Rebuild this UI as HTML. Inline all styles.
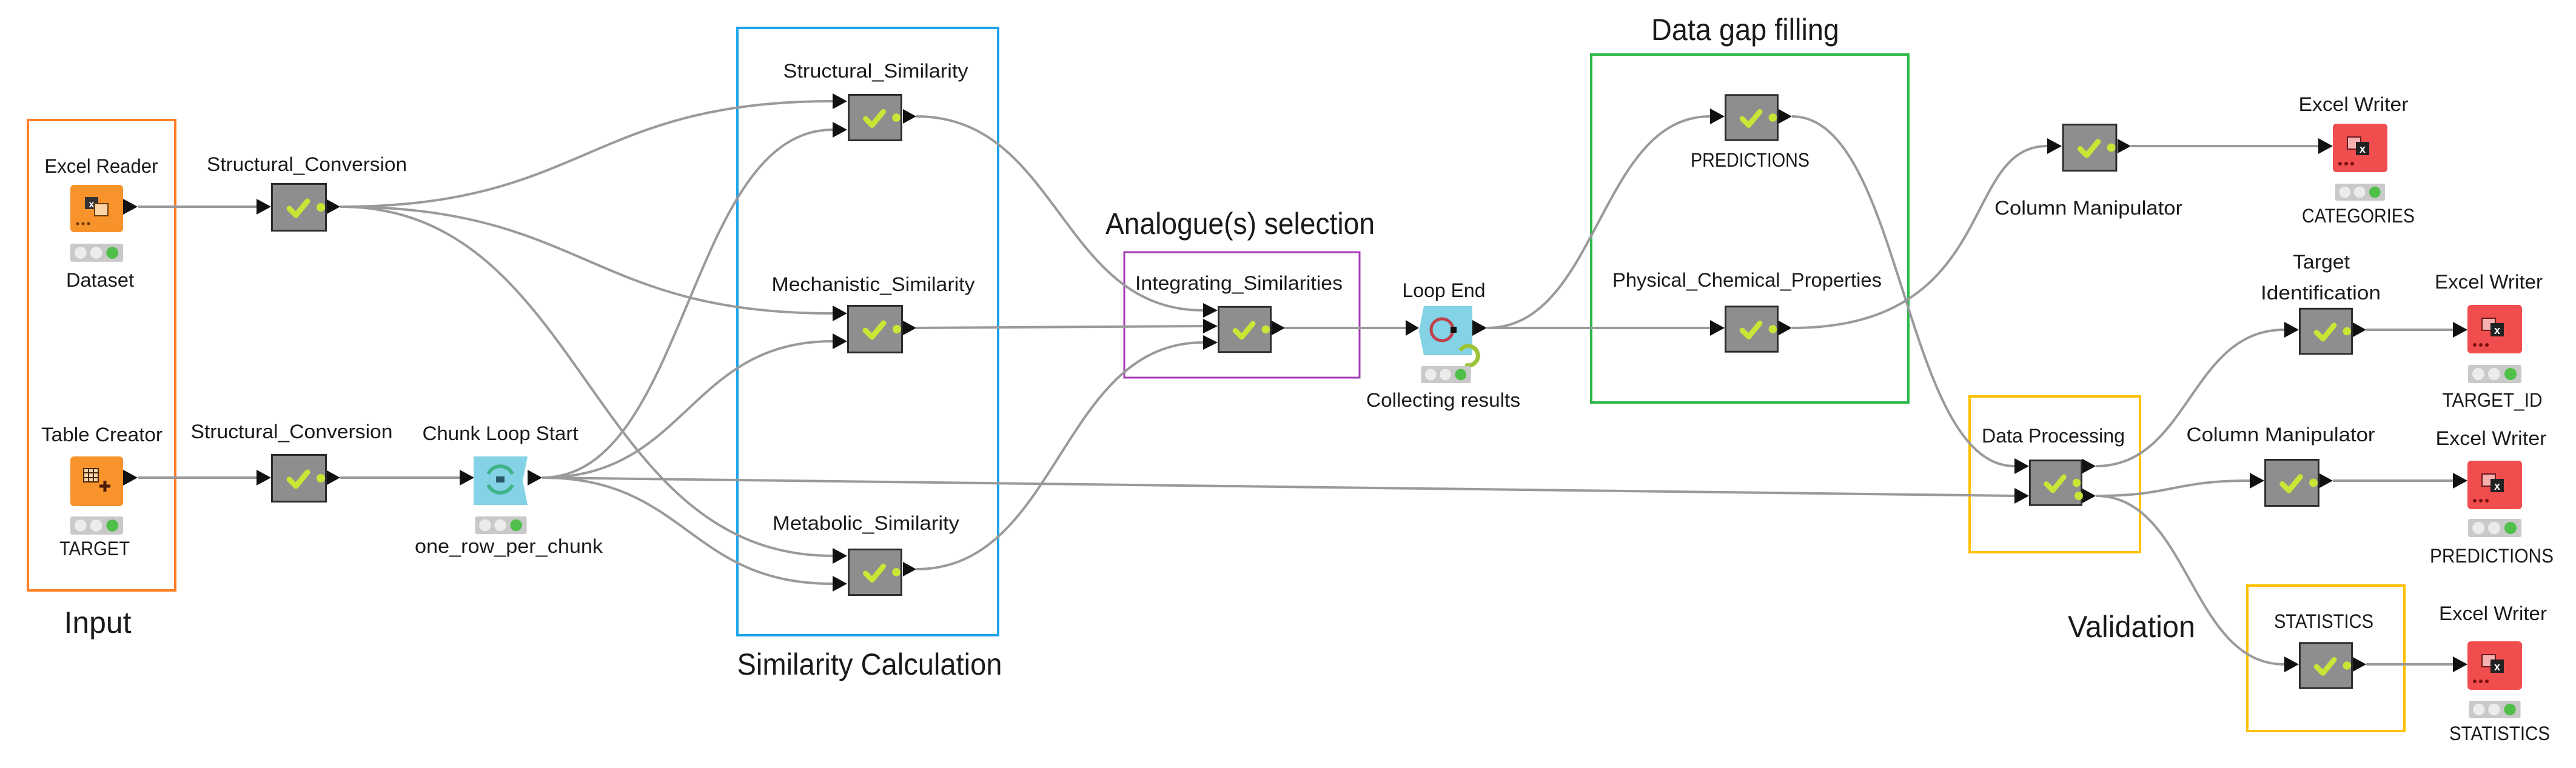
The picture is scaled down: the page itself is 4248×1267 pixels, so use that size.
<!DOCTYPE html>
<html><head><meta charset="utf-8"><style>
html,body{margin:0;padding:0;background:#fff;}
svg{display:block;}
text{font-family:"Liberation Sans",sans-serif;fill:#1a1a1a;}
.l{font-size:32px;}
.g{font-size:50px;}
</style></head><body>
<svg width="4248" height="1267" viewBox="0 0 4248 1267" xmlns="http://www.w3.org/2000/svg">
<defs>
<symbol id="node" viewBox="0 0 92 80">
<rect x="1.5" y="1.5" width="89" height="77" fill="#8e8e8e" stroke="#2b2b2b" stroke-width="3"/>
<polyline points="30,42 41,53 60,30" fill="none" stroke="#c8e636" stroke-width="9" stroke-linecap="round" stroke-linejoin="round"/>
<circle cx="82" cy="40" r="7" fill="#c8e636"/>
</symbol>
<symbol id="status" viewBox="0 0 88 30">
<rect x="0" y="0" width="88" height="30" rx="3" fill="#c9c9c9"/>
<circle cx="17" cy="15" r="10" fill="#ececec"/>
<circle cx="43" cy="15" r="10" fill="#ececec"/>
<circle cx="70" cy="15" r="10" fill="#4fbf4a"/>
</symbol>
<symbol id="ew" viewBox="0 0 90 80">
<rect x="0" y="0" width="90" height="80" rx="6" fill="#f04d4f"/>
<rect x="24" y="22" width="22" height="20" fill="#f7b0b0" stroke="#6a1a1a" stroke-width="2"/>
<rect x="38" y="30" width="22" height="22" fill="#222"/>
<text x="49" y="48" font-size="18" style="fill:#fff;font-weight:bold" text-anchor="middle">x</text>
<circle cx="12" cy="66" r="3" fill="#7a1010"/><circle cx="22" cy="66" r="3" fill="#7a1010"/><circle cx="32" cy="66" r="3" fill="#7a1010"/>
</symbol>
</defs>

<!-- group boxes -->
<rect x="46" y="198" width="243" height="776" fill="none" stroke="#ff7f27" stroke-width="4"/>
<rect x="1216" y="46" width="430" height="1002" fill="none" stroke="#1ea4ea" stroke-width="4"/>
<rect x="1854" y="416" width="388" height="207" fill="none" stroke="#a43cb4" stroke-width="3"/>
<rect x="2624" y="90" width="523" height="574" fill="none" stroke="#2cb84a" stroke-width="4"/>
<rect x="3248" y="654" width="281" height="257" fill="none" stroke="#ffc000" stroke-width="4"/>
<rect x="3706" y="966" width="259" height="240" fill="none" stroke="#ffc000" stroke-width="4"/>

<!-- group titles -->
<text class="g" x="161" y="1044" text-anchor="middle" textLength="111" lengthAdjust="spacingAndGlyphs">Input</text>
<text class="g" x="1434" y="1113" text-anchor="middle" textLength="437" lengthAdjust="spacingAndGlyphs">Similarity Calculation</text>
<text class="g" x="2045" y="386" text-anchor="middle" textLength="444" lengthAdjust="spacingAndGlyphs">Analogue(s) selection</text>
<text class="g" x="2878" y="66" text-anchor="middle" textLength="310" lengthAdjust="spacingAndGlyphs">Data gap filling</text>
<text class="g" x="3515" y="1051" text-anchor="middle" textLength="210" lengthAdjust="spacingAndGlyphs">Validation</text>

<!-- connectors -->
<g fill="none" stroke="#9a9a9a" stroke-width="4">
<path d="M228 341 L423 341"/>
<path d="M561 341 C967 341 967 167 1373 167"/>
<path d="M561 341 C967 341 967 517 1373 517"/>
<path d="M561 341 C967 341 967 917 1373 917"/>
<path d="M228 788 L423 788"/>
<path d="M561 788 L758 788"/>
<path d="M894 788 C1134 788 1134 214 1373 214"/>
<path d="M894 788 C1134 788 1134 563 1373 563"/>
<path d="M894 788 C1134 788 1134 963 1373 963"/>
<path d="M894 788 L3322 818"/>
<path d="M1511 192 C1747 192 1747 512 1984 512"/>
<path d="M1511 541 L1984 538"/>
<path d="M1511 939 C1747 939 1747 565 1984 565"/>
<path d="M2118 541 L2318 541"/>
<path d="M2452 541 C2636 541 2636 192 2820 192"/>
<path d="M2452 541 L2820 541"/>
<path d="M2955 192 C3138 192 3138 769 3322 769"/>
<path d="M2955 541 C3300 541 3230 241 3376 241"/>
<path d="M3514 241 L3823 241"/>
<path d="M3456 769 C3611 769 3611 544 3767 544"/>
<path d="M3456 818 C3583 818 3583 793 3710 793"/>
<path d="M3456 818 C3611 818 3611 1096 3767 1096"/>
<path d="M3902 544 L4045 544"/>
<path d="M3847 793 L4045 793"/>
<path d="M3902 1096 L4045 1096"/>
</g>

<!-- gray nodes -->
<use href="#node" x="447" y="302" width="92" height="80"/>
<use href="#node" x="447" y="749" width="92" height="80"/>
<use href="#node" x="1397" y="155" width="92" height="78"/>
<use href="#node" x="1397" y="503" width="92" height="80"/>
<use href="#node" x="1397" y="905" width="92" height="78"/>
<use href="#node" x="2008" y="503" width="89" height="81"/>
<use href="#node" x="2844" y="155" width="89" height="78"/>
<use href="#node" x="2844" y="503" width="89" height="80"/>
<use href="#node" x="3400" y="204" width="92" height="79"/>
<use href="#node" x="3791" y="507" width="89" height="79"/>
<use href="#node" x="3346" y="757" width="88" height="79"/>
<use href="#node" x="3734" y="757" width="91" height="79"/>
<use href="#node" x="3791" y="1058" width="89" height="80"/>

<!-- ports -->
<g fill="#111">
<!-- inputs -->
<polygon points="423,328 447,341 423,354"/>
<polygon points="423,775 447,788 423,801"/>
<polygon points="758,775 782,788 758,801"/>
<polygon points="1373,154 1397,167 1373,180"/>
<polygon points="1373,201 1397,214 1373,227"/>
<polygon points="1373,504 1397,517 1373,530"/>
<polygon points="1373,550 1397,563 1373,576"/>
<polygon points="1373,904 1397,917 1373,930"/>
<polygon points="1373,950 1397,963 1373,976"/>
<polygon points="1984,500 2008,512 1984,524"/>
<polygon points="1984,526 2008,538 1984,550"/>
<polygon points="1984,553 2008,565 1984,577"/>
<polygon points="2318,528 2340,541 2318,554"/>
<polygon points="2820,179 2844,192 2820,205"/>
<polygon points="2820,528 2844,541 2820,554"/>
<polygon points="3376,228 3400,241 3376,254"/>
<polygon points="3767,531 3791,544 3767,557"/>
<polygon points="3322,756 3346,769 3322,782"/>
<polygon points="3322,805 3346,818 3322,831"/>
<polygon points="3710,780 3734,793 3710,806"/>
<polygon points="3767,1083 3791,1096 3767,1109"/>
<polygon points="3823,228 3847,241 3823,254"/>
<polygon points="4045,531 4069,544 4045,557"/>
<polygon points="4045,780 4069,793 4045,806"/>
<polygon points="4045,1083 4069,1096 4045,1109"/>
<!-- outputs -->
<polygon points="203,328 227,341 203,354"/>
<polygon points="203,775 227,788 203,801"/>
<polygon points="539,329 561,341 539,353"/>
<polygon points="539,776 561,788 539,800"/>
<polygon points="870,775 894,788 870,801"/>
<polygon points="1489,180 1511,192 1489,204"/>
<polygon points="1489,529 1511,541 1489,553"/>
<polygon points="1489,927 1511,939 1489,951"/>
<polygon points="2097,529 2119,541 2097,553"/>
<polygon points="2428,528 2452,541 2428,554"/>
<polygon points="2933,180 2955,192 2933,204"/>
<polygon points="2933,529 2955,541 2933,553"/>
<polygon points="3492,229 3514,241 3492,253"/>
<polygon points="3880,532 3902,544 3880,556"/>
<polygon points="3434,757 3456,769 3434,781"/>
<polygon points="3434,806 3456,818 3434,830"/>
<polygon points="3825,781 3847,793 3825,805"/>
<polygon points="3880,1084 3902,1096 3880,1108"/>
</g>
<!-- DP second out dot -->
<circle cx="3428" cy="818" r="7" fill="#c8e636"/>

<!-- orange source nodes -->
<rect x="116" y="305" width="87" height="78" rx="6" fill="#f7932a"/>
<rect x="140" y="325" width="22" height="20" fill="#333"/><text x="151" y="342" font-size="16" style="fill:#fff;font-weight:bold" text-anchor="middle">x</text>
<rect x="156" y="336" width="22" height="20" fill="#fbd3a6" stroke="#6b3a0a" stroke-width="2"/>
<circle cx="128" cy="369" r="2.5" fill="#6b3a0a"/><circle cx="137" cy="369" r="2.5" fill="#6b3a0a"/><circle cx="146" cy="369" r="2.5" fill="#6b3a0a"/>
<rect x="116" y="753" width="87" height="82" rx="6" fill="#f7932a"/>
<rect x="138" y="773" width="24" height="22" fill="#fbd3a6" stroke="#4a2a08" stroke-width="2"/>
<path d="M146 773 V795 M154 773 V795 M138 780 H162 M138 788 H162" stroke="#4a2a08" stroke-width="2"/>
<path d="M173 793 V811 M164 802 H182" stroke="#4a1a08" stroke-width="5"/>

<!-- loop nodes -->
<polygon points="781,753 870,753 862,793 870,833 781,833" fill="#84d2e6"/>
<path d="M805 782 A22 22 0 0 1 845 782 M845 800 A22 22 0 0 1 805 800" fill="none" stroke="#3fb38a" stroke-width="6"/>
<rect x="818" y="786" width="14" height="10" fill="#2a5a6a"/>
<polygon points="2348,505 2428,505 2428,586 2348,586 2340,546" fill="#84d2e6"/>
<circle cx="2378" cy="544" r="18" fill="none" stroke="#c0404a" stroke-width="5"/>
<rect x="2392" y="539" width="10" height="10" fill="#111"/>
<path d="M2416 602 A16 16 0 1 0 2408 578" fill="none" stroke="#9cc43a" stroke-width="7"/>

<!-- excel writers -->
<use href="#ew" x="3847" y="204" width="90" height="80"/>
<use href="#ew" x="4069" y="503" width="90" height="80"/>
<use href="#ew" x="4069" y="760" width="90" height="80"/>
<use href="#ew" x="4069" y="1058" width="90" height="80"/>

<!-- status bars -->
<use href="#status" x="116" y="402" width="87" height="30"/>
<use href="#status" x="116" y="852" width="87" height="30"/>
<use href="#status" x="782" y="852" width="88" height="29"/>
<use href="#status" x="2341" y="604" width="87" height="28"/>
<use href="#status" x="3847" y="303" width="90" height="28"/>
<use href="#status" x="4069" y="602" width="90" height="30"/>
<use href="#status" x="4069" y="856" width="90" height="30"/>
<use href="#status" x="4069" y="1156" width="90" height="29"/>

<!-- node labels -->
<g class="l">
<text class="l" x="167" y="285" text-anchor="middle" textLength="187" lengthAdjust="spacingAndGlyphs">Excel Reader</text>
<text class="l" x="165" y="473" text-anchor="middle" textLength="112" lengthAdjust="spacingAndGlyphs">Dataset</text>
<text class="l" x="168" y="728" text-anchor="middle" textLength="200" lengthAdjust="spacingAndGlyphs">Table Creator</text>
<text class="l" x="156" y="916" text-anchor="middle" textLength="116" lengthAdjust="spacingAndGlyphs">TARGET</text>
<text class="l" x="506" y="282" text-anchor="middle" textLength="330" lengthAdjust="spacingAndGlyphs">Structural_Conversion</text>
<text class="l" x="481" y="723" text-anchor="middle" textLength="333" lengthAdjust="spacingAndGlyphs">Structural_Conversion</text>
<text class="l" x="825" y="726" text-anchor="middle" textLength="257" lengthAdjust="spacingAndGlyphs">Chunk Loop Start</text>
<text class="l" x="839" y="912" text-anchor="middle" textLength="310" lengthAdjust="spacingAndGlyphs">one_row_per_chunk</text>
<text class="l" x="1444" y="128" text-anchor="middle" textLength="305" lengthAdjust="spacingAndGlyphs">Structural_Similarity</text>
<text class="l" x="1440" y="480" text-anchor="middle" textLength="335" lengthAdjust="spacingAndGlyphs">Mechanistic_Similarity</text>
<text class="l" x="1428" y="874" text-anchor="middle" textLength="308" lengthAdjust="spacingAndGlyphs">Metabolic_Similarity</text>
<text class="l" x="2043" y="478" text-anchor="middle" textLength="342" lengthAdjust="spacingAndGlyphs">Integrating_Similarities</text>
<text class="l" x="2381" y="490" text-anchor="middle" textLength="137" lengthAdjust="spacingAndGlyphs">Loop End</text>
<text class="l" x="2380" y="671" text-anchor="middle" textLength="254" lengthAdjust="spacingAndGlyphs">Collecting results</text>
<text class="l" x="2886" y="275" text-anchor="middle" textLength="196" lengthAdjust="spacingAndGlyphs">PREDICTIONS</text>
<text class="l" x="2881" y="473" text-anchor="middle" textLength="444" lengthAdjust="spacingAndGlyphs">Physical_Chemical_Properties</text>
<text class="l" x="3444" y="354" text-anchor="middle" textLength="310" lengthAdjust="spacingAndGlyphs">Column Manipulator</text>
<text class="l" x="3881" y="183" text-anchor="middle" textLength="181" lengthAdjust="spacingAndGlyphs">Excel Writer</text>
<text class="l" x="3889" y="367" text-anchor="middle" textLength="186" lengthAdjust="spacingAndGlyphs">CATEGORIES</text>
<text class="l" x="3828" y="443" text-anchor="middle" textLength="94" lengthAdjust="spacingAndGlyphs">Target</text>
<text class="l" x="3827" y="494" text-anchor="middle" textLength="198" lengthAdjust="spacingAndGlyphs">Identification</text>
<text class="l" x="4104" y="476" text-anchor="middle" textLength="178" lengthAdjust="spacingAndGlyphs">Excel Writer</text>
<text class="l" x="4110" y="671" text-anchor="middle" textLength="165" lengthAdjust="spacingAndGlyphs">TARGET_ID</text>
<text class="l" x="3386" y="730" text-anchor="middle" textLength="236" lengthAdjust="spacingAndGlyphs">Data Processing</text>
<text class="l" x="3761" y="728" text-anchor="middle" textLength="311" lengthAdjust="spacingAndGlyphs">Column Manipulator</text>
<text class="l" x="4108" y="734" text-anchor="middle" textLength="183" lengthAdjust="spacingAndGlyphs">Excel Writer</text>
<text class="l" x="4109" y="928" text-anchor="middle" textLength="204" lengthAdjust="spacingAndGlyphs">PREDICTIONS</text>
<text class="l" x="3832" y="1036" text-anchor="middle" textLength="164" lengthAdjust="spacingAndGlyphs">STATISTICS</text>
<text class="l" x="4111" y="1023" text-anchor="middle" textLength="178" lengthAdjust="spacingAndGlyphs">Excel Writer</text>
<text class="l" x="4122" y="1221" text-anchor="middle" textLength="166" lengthAdjust="spacingAndGlyphs">STATISTICS</text>
</g>
</svg>
</body></html>
